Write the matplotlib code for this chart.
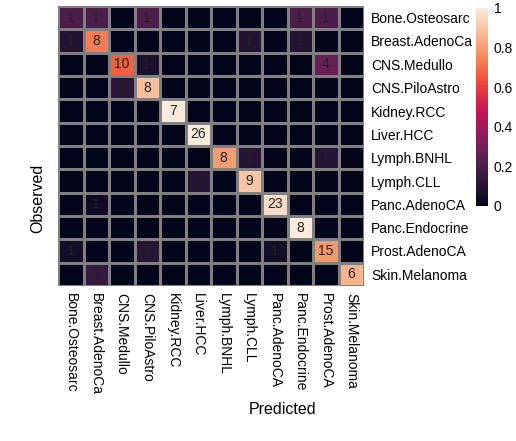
import numpy as np
import matplotlib
matplotlib.use("Agg")
from matplotlib import pyplot as plt
import seaborn as sns

plt.rcParams['font.family'] = ['Liberation Sans', 'DejaVu Sans']

classes = ['Bone.Osteosarc', 'Breast.AdenoCa', 'CNS.Medullo', 'CNS.PiloAstro',
           'Kidney.RCC', 'Liver.HCC', 'Lymph.BNHL', 'Lymph.CLL',
           'Panc.AdenoCA', 'Panc.Endocrine', 'Prost.AdenoCA', 'Skin.Melanoma']

# confusion counts, rows = observed, cols = predicted
counts = np.array([
    [1, 1, 0, 1, 0, 0, 0, 0, 0, 1, 1, 0],
    [1, 8, 0, 0, 0, 0, 0, 1, 0, 1, 0, 0],
    [0, 0, 10, 1, 0, 0, 0, 0, 0, 0, 4, 0],
    [0, 0, 1, 8, 0, 0, 0, 0, 0, 0, 0, 0],
    [0, 0, 0, 0, 7, 0, 0, 0, 0, 0, 0, 0],
    [0, 0, 0, 0, 0, 26, 0, 0, 0, 0, 0, 0],
    [0, 0, 0, 0, 0, 0, 8, 1, 0, 0, 1, 0],
    [0, 0, 0, 0, 0, 1, 0, 9, 0, 0, 0, 0],
    [0, 1, 0, 0, 0, 0, 0, 0, 23, 0, 0, 0],
    [0, 0, 0, 0, 0, 0, 0, 0, 0, 8, 0, 0],
    [1, 0, 0, 2, 0, 0, 0, 0, 1, 0, 15, 0],
    [0, 1, 0, 0, 0, 0, 0, 0, 0, 0, 0, 6],
])

# colour by fraction of each observed class
props = counts / counts.sum(axis=1, keepdims=True)

cmap = sns.color_palette("rocket", as_cmap=True)

W, H = 516, 441
fig = plt.figure(figsize=(W / 100, H / 100), dpi=100)

# grid area in pixels
gl, gt, gr, gb = 58, 6, 364, 286
ax = fig.add_axes([gl / W, 1 - gb / H, (gr - gl) / W, (gb - gt) / H])
mesh = ax.pcolormesh(props, cmap=cmap, vmin=0, vmax=1,
                     edgecolors='#808080', linewidth=0.8)
ax.set_xlim(0, 12)
ax.set_ylim(12, 0)

for i in range(12):
    for j in range(12):
        if counts[i, j] > 0:
            ax.text(j + 0.5, i + 0.5, str(counts[i, j]), ha='center', va='center',
                    fontsize=10, color='#222222')

ax.yaxis.tick_right()
ax.set_yticks(np.arange(12) + 0.5)
ax.set_yticklabels(classes, fontsize=10)
ax.set_xticks(np.arange(12) + 0.5)
ax.set_xticklabels(classes, fontsize=10, rotation=270, va='top', ha='center')
ax.tick_params(length=0, pad=5)
for s in ax.spines.values():
    s.set_visible(False)

# colour bar
cax = fig.add_axes([476 / W, 1 - 206 / H, 12 / W, 198 / H])
cb = fig.colorbar(mesh, cax=cax)
cb.outline.set_visible(False)
cb.set_ticks([0, 0.2, 0.4, 0.6, 0.8, 1])
cb.set_ticklabels(['0', '0.2', '0.4', '0.6', '0.8', '1'])
cax.tick_params(length=0, labelsize=10, pad=4)

fig.text(38 / W, 1 - 198 / H, 'Observed', rotation=90, ha='center', va='center', fontsize=11.5)
fig.text(283 / W, 1 - 409 / H, 'Predicted', ha='center', va='center', fontsize=11.5)

fig.savefig('out.png', dpi=100)
